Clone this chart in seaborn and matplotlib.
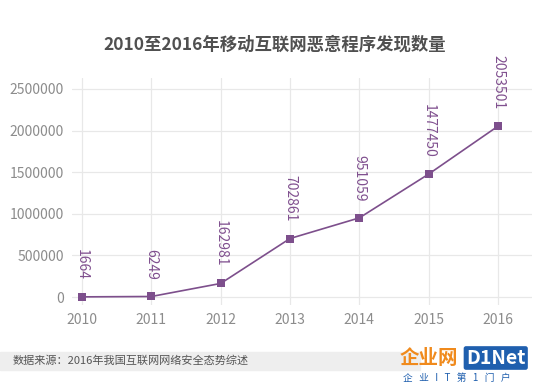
import matplotlib
matplotlib.use("Agg")
import matplotlib.pyplot as plt
import seaborn as sns
import pandas as pd

years = [2010, 2011, 2012, 2013, 2014, 2015, 2016]
counts = [1664, 6249, 162981, 702861, 951059, 1477450, 2053501]
y_ticks = [0, 500000, 1000000, 1500000, 2000000, 2500000]

title = "2010至2016年移动互联网恶意程序发现数量"
source = "数据来源：2016年我国互联网网络安全态势综述"

df = pd.DataFrame({"year": years, "count": counts})

sns.set_theme(style="whitegrid")
plt.rcParams["font.family"] = ["Noto Sans CJK SC", "DejaVu Sans"]

line_color = "#7d4f8c"

fig = plt.figure(figsize=(5.5, 3.85), dpi=100)
ax = fig.add_axes([72 / 550, 1 - 305 / 385, 460 / 550, 227 / 385])

sns.lineplot(data=df, x="year", y="count", ax=ax, color=line_color,
             marker="s", markersize=6, markeredgewidth=0, linewidth=1.2)

# rotated value labels above each point
for yr, c in zip(years, counts):
    ax.annotate(str(c), (yr, c), xytext=(0, 12), textcoords="offset points",
                rotation=-90, ha="center", va="bottom", fontsize=10,
                color="#80508f")

ax.set_xlim(2009.856, 2016.49)
ax.set_ylim(-96000, 2632000)
ax.set_xticks(years)
ax.set_yticks(y_ticks)
ax.set_xticklabels([str(y) for y in years])
ax.set_yticklabels([str(v) for v in y_ticks])
ax.tick_params(axis="both", labelsize=10, labelcolor="#8c8c8c", length=0, pad=6)
ax.grid(True, color="#e8e8e8", linewidth=0.9)
ax.set_xlabel("")
ax.set_ylabel("")
for s in ax.spines.values():
    s.set_visible(False)

fig.text(0.5, 1 - 45 / 385, title, ha="center", va="center",
         fontsize=12.5, fontweight="bold", color="#505050")

# source band at the bottom
fig.patches.append(plt.Rectangle((0, 1 - 370 / 385), 420 / 550, 18 / 385,
                                 transform=fig.transFigure, color="#eeeeee",
                                 zorder=0))
fig.text(13 / 550, 1 - 361 / 385, source, ha="left", va="center",
         fontsize=8, color="#555555", style="italic")

# watermark logo
fig.text(400 / 550, 1 - 358 / 385, "企业网", ha="left", va="center",
         fontsize=14, fontweight="bold", color="#f08a1c")
fig.text(466 / 550, 1 - 358 / 385, "D1Net", ha="left", va="center",
         fontsize=14, fontweight="bold", color="white",
         bbox=dict(boxstyle="round,pad=0.12", fc="#1f5fae", ec="none"))
fig.text(403 / 550, 1 - 378 / 385, "企   业   I   T   第   1   门   户", ha="left",
         va="center", fontsize=7, color="#1f5fae")

fig.savefig("out.png", dpi=100)
